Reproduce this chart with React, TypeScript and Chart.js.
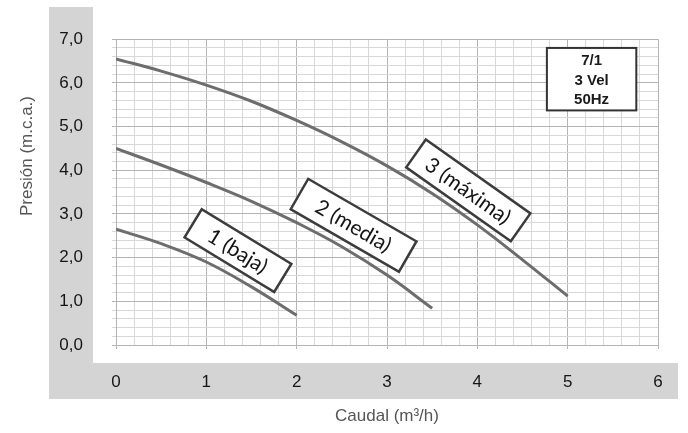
import React, { useEffect, useRef } from 'react';
import { Chart, registerables } from 'chart.js';

Chart.register(...registerables);

// ---- data ----
const xTickValues = [0, 1, 2, 3, 4, 5, 6];
const xTickLabels = ['0', '1', '2', '3', '4', '5', '6'];
const yTickLabels = ['0,0', '1,0', '2,0', '3,0', '4,0', '5,0', '6,0', '7,0'];

const bajaX = [0, 0.5, 1, 1.5, 2];
const bajaY = [2.65, 2.32, 1.9, 1.33, 0.68];

const mediaX = [0, 0.5, 1, 1.5, 2, 2.5, 3, 3.5];
const mediaY = [4.5, 4.12, 3.72, 3.29, 2.8, 2.25, 1.6, 0.84];

const maximaX = [0, 0.5, 1, 1.5, 2, 2.5, 3, 3.5, 4, 4.5, 5];
const maximaY = [6.55, 6.27, 5.95, 5.58, 5.14, 4.65, 4.1, 3.47, 2.75, 1.95, 1.12];

const curveLabels = ['1 (baja)', '2 (media)', '3 (máxima)'];
const curveLabelX = [1.35, 2.63, 3.9];
const curveLabelY = [2.16, 2.74, 3.54];

const infoLines = ['7/1', '3 Vel', '50Hz'];

const xTitle = 'Caudal (m³/h)';
const yTitle = 'Presión (m.c.a.)';

// ---- styles ----
const SANS = '"Liberation Sans", Arial, Helvetica, sans-serif';
const LABEL_FONT = 'Lato, "Open Sans", sans-serif';
const CURVE_COLOR = '#6d6d6d';
const MAJOR_GRID = '#b4b4b4';
const MINOR_GRID = '#d8d8d8';

const labelBoxStyle = [
  { w: 105, h: 33, angle: 31.4 },
  { w: 125, h: 35, angle: 30 },
  { w: 128, h: 34, angle: 35.2 },
];

const isMajor = (v: number) => Math.abs(v - Math.round(v)) < 1e-6;

const toPoints = (xs: number[], ys: number[]) => xs.map((x, i) => ({ x, y: ys[i] }));

const decorPlugin = {
  id: 'decor',
  beforeDraw(chart: any) {
    const ctx = chart.ctx as CanvasRenderingContext2D;
    ctx.save();
    ctx.fillStyle = '#d4d4d4';
    ctx.fillRect(49, 7, 44, 392);
    ctx.fillRect(49, 363, 629, 36);
    ctx.fillStyle = '#555555';
    ctx.font = `17px ${SANS}`;
    ctx.textAlign = 'center';
    ctx.textBaseline = 'middle';
    ctx.fillText(xTitle, 387, 416);
    ctx.translate(27, 156);
    ctx.rotate(-Math.PI / 2);
    ctx.fillText(yTitle, 0, 0);
    ctx.restore();
  },
  afterDatasetsDraw(chart: any) {
    const ctx = chart.ctx as CanvasRenderingContext2D;
    const xs = chart.scales.x;
    const ys = chart.scales.y;
    // curve label boxes
    curveLabels.forEach((txt, i) => {
      const st = labelBoxStyle[i];
      const cx = xs.getPixelForValue(curveLabelX[i]);
      const cy = ys.getPixelForValue(curveLabelY[i]);
      ctx.save();
      ctx.translate(cx, cy);
      ctx.rotate((st.angle * Math.PI) / 180);
      ctx.fillStyle = '#ffffff';
      ctx.fillRect(-st.w / 2, -st.h / 2, st.w, st.h);
      ctx.strokeStyle = '#3c3c3c';
      ctx.lineWidth = 2.5;
      ctx.strokeRect(-st.w / 2, -st.h / 2, st.w, st.h);
      ctx.fillStyle = '#151515';
      ctx.font = `21px ${LABEL_FONT}`;
      ctx.textAlign = 'center';
      ctx.textBaseline = 'middle';
      ctx.fillText(txt, 0, 1);
      ctx.restore();
    });
    // info box
    const bx0 = xs.getPixelForValue(4.77);
    const bx1 = xs.getPixelForValue(5.76);
    const by0 = ys.getPixelForValue(6.8);
    const by1 = ys.getPixelForValue(5.37);
    ctx.save();
    ctx.fillStyle = '#ffffff';
    ctx.fillRect(bx0, by0, bx1 - bx0, by1 - by0);
    ctx.strokeStyle = '#333333';
    ctx.lineWidth = 2;
    ctx.strokeRect(bx0, by0, bx1 - bx0, by1 - by0);
    ctx.fillStyle = '#1a1a1a';
    ctx.font = `bold 15px ${SANS}`;
    ctx.textAlign = 'center';
    ctx.textBaseline = 'middle';
    const mx = (bx0 + bx1) / 2;
    const my = (by0 + by1) / 2 + 1.5;
    infoLines.forEach((t, i) => {
      ctx.fillText(t, mx, my + (i - 1) * 19.5);
    });
    ctx.restore();
  },
};

export default function App() {
  const canvasRef = useRef<HTMLCanvasElement | null>(null);

  useEffect(() => {
    if (!canvasRef.current) return;
    const lineDs = (label: string, xs: number[], ys: number[]) => ({
      label,
      data: toPoints(xs, ys),
      borderColor: CURVE_COLOR,
      borderWidth: 3,
      pointRadius: 0,
      fill: false,
      tension: 0.4,
    });
    const chart = new Chart(canvasRef.current, {
      type: 'line',
      data: {
        datasets: [
          lineDs(curveLabels[0], bajaX, bajaY),
          lineDs(curveLabels[1], mediaX, mediaY),
          lineDs(curveLabels[2], maximaX, maximaY),
        ],
      },
      options: {
        animation: false,
        responsive: false,
        maintainAspectRatio: false,
        devicePixelRatio: 1,
        layout: { padding: { left: 0, right: 30, top: 21, bottom: 0 } },
        plugins: { legend: { display: false }, tooltip: { enabled: false } },
        scales: {
          x: {
            type: 'linear',
            min: 0,
            max: 6,
            afterFit(scale: any) {
              scale.height = 88;
            },
            ticks: {
              stepSize: 0.2,
              autoSkip: false,
              maxRotation: 0,
              padding: 23,
              color: '#151515',
              font: { family: SANS, size: 17 },
              callback(v: any) {
                const n = Number(v);
                if (!isMajor(n)) return '';
                const idx = xTickValues.indexOf(Math.round(n));
                return idx >= 0 ? xTickLabels[idx] : '';
              },
            },
            grid: {
              color: (c: any) => (isMajor(c.tick.value) ? MAJOR_GRID : MINOR_GRID),
              tickColor: (c: any) => (isMajor(c.tick.value) ? MAJOR_GRID : 'rgba(0,0,0,0)'),
              tickLength: 4,
              lineWidth: 1,
            },
            border: { display: true, color: MAJOR_GRID },
          },
          y: {
            type: 'linear',
            min: 0,
            max: 7,
            afterFit(scale: any) {
              scale.width = 116;
            },
            ticks: {
              stepSize: 0.2,
              autoSkip: false,
              padding: 29,
              color: '#151515',
              font: { family: SANS, size: 17 },
              callback(v: any) {
                const n = Number(v);
                if (!isMajor(n)) return '';
                return yTickLabels[Math.round(n)] ?? '';
              },
            },
            grid: {
              color: (c: any) => (isMajor(c.tick.value) ? MAJOR_GRID : MINOR_GRID),
              tickColor: (c: any) => (isMajor(c.tick.value) ? MAJOR_GRID : MINOR_GRID),
              tickLength: 4,
              lineWidth: 1,
            },
            border: { display: true, color: MAJOR_GRID },
          },
        },
      },
      plugins: [decorPlugin],
    });
    return () => chart.destroy();
  }, []);

  return (
    <div style={{ position: 'absolute', left: 0, top: 0, width: 688, height: 433, background: '#ffffff' }}>
      <canvas ref={canvasRef} width={688} height={433} style={{ display: 'block' }} />
    </div>
  );
}
